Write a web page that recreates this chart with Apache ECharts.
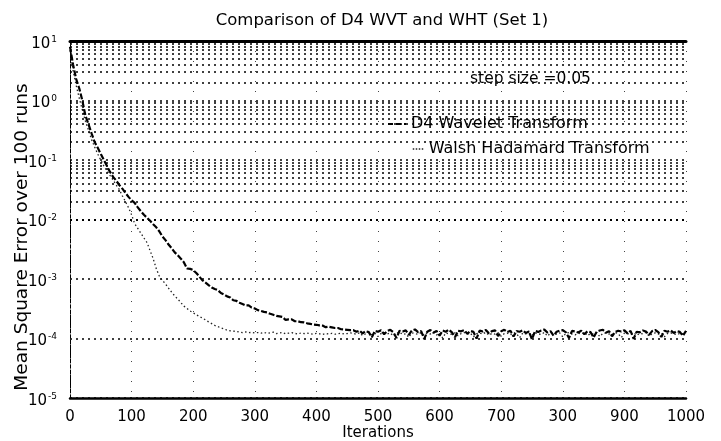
<!DOCTYPE html>
<html>
<head>
<meta charset="utf-8">
<script src="https://cdn.jsdelivr.net/npm/echarts@6/dist/echarts.min.js"></script>
<style>html,body{margin:0;padding:0;background:#fff}#c{width:721px;height:441px}</style>
</head>
<body>
<div id="c"></div>
<script>
const STEP = 5;
const titleText = 'Comparison of D4 WVT and WHT (Set 1)';
const stepLabel = 'step size =0.05';
const seriesNames = ['D4 Wavelet Transform', 'Walsh Hadamard Transform'];
const xTicks = [0, 100, 200, 300, 400, 500, 600, 700, 800, 900, 1000];
const xTickLabels = ['0', '100', '200', '300', '400', '500', '600', '700', '300', '900', '1000'];
const yDecades = [-5, -4, -3, -2, -1, 0, 1];
const gridMantissas = [2, 3, 4, 5, 6, 7, 8, 9];

// D4 Wavelet Transform, iterations 0..1000 step 5
const d4Values = [
  8.0, 4.0, 2.3, 1.6, 1.0, 0.56, 0.40, 0.28, 0.20, 0.16,
  0.126, 0.10, 0.079, 0.063, 0.052, 0.045, 0.038, 0.033, 0.028, 0.024,
  0.021, 0.019, 0.016, 0.0138, 0.012, 0.0107, 0.0095, 0.0083, 0.0074, 0.0063,
  0.0052, 0.0045, 0.0038, 0.0033, 0.0028, 0.0025, 0.0022, 0.0019, 0.0015, 0.00148,
  0.00141, 0.00126, 0.0011, 0.00095, 0.00087, 0.00079, 0.00072, 0.00068, 0.00065, 0.00058,
  0.00055, 0.00051, 0.00049, 0.00044, 0.00043, 0.00040, 0.00038, 0.00036, 0.00036, 0.00033,
  0.00032, 0.00030, 0.00029, 0.00028, 0.000275, 0.00026, 0.00025, 0.00024, 0.000235, 0.00023,
  0.000205, 0.00021, 0.00021, 0.000195, 0.000195, 0.000188, 0.000186, 0.00018, 0.000176, 0.000172,
  0.00017, 0.000166, 0.000165, 0.000155, 0.000158, 0.000154, 0.000150, 0.00015, 0.000143, 0.000142,
  0.000140, 0.000138,
  1.38e-4, 1.30e-4, 1.36e-4, 1.22e-4, 1.33e-4, 1.28e-4, 1.05e-4, 1.34e-4, 1.30e-4, 1.38e-4,
  1.18e-4, 1.33e-4, 1.40e-4, 1.27e-4, 1.02e-4, 1.35e-4, 1.31e-4, 1.37e-4, 1.15e-4, 1.36e-4,
  1.42e-4, 1.28e-4, 1.33e-4, 0.98e-4, 1.30e-4, 1.39e-4, 1.25e-4, 1.34e-4, 1.12e-4, 1.36e-4,
  1.30e-4, 1.41e-4, 1.27e-4, 1.05e-4, 1.35e-4, 1.32e-4, 1.38e-4, 1.20e-4, 1.34e-4, 1.29e-4,
  1.00e-4, 1.36e-4, 1.31e-4, 1.39e-4, 1.22e-4, 1.33e-4, 1.37e-4, 1.10e-4, 1.32e-4, 1.40e-4,
  1.28e-4, 1.35e-4, 1.08e-4, 1.33e-4, 1.30e-4, 1.37e-4, 1.24e-4, 1.31e-4, 0.97e-4, 1.34e-4,
  1.29e-4, 1.36e-4, 1.41e-4, 1.26e-4, 1.33e-4, 1.12e-4, 1.30e-4, 1.36e-4, 1.38e-4, 1.27e-4,
  1.02e-4, 1.34e-4, 1.31e-4, 1.26e-4, 1.35e-4, 1.18e-4, 1.32e-4, 1.28e-4, 1.04e-4, 1.30e-4,
  1.36e-4, 1.40e-4, 1.25e-4, 1.33e-4, 1.09e-4, 1.29e-4, 1.35e-4, 1.31e-4, 1.38e-4, 1.22e-4,
  1.34e-4, 0.99e-4, 1.30e-4, 1.27e-4, 1.36e-4, 1.31e-4, 1.15e-4, 1.33e-4, 1.39e-4, 1.28e-4,
  1.06e-4, 1.35e-4, 1.30e-4, 1.37e-4, 1.24e-4, 1.33e-4, 1.29e-4, 1.11e-4, 1.34e-4
];

// Walsh Hadamard Transform, iterations 0..1000 step 5
const whtValues = [
  7, 3.2, 1.8, 1.1, 0.7, 0.45, 0.32, 0.22, 0.166, 0.126,
  0.10, 0.079, 0.066, 0.055, 0.046, 0.038, 0.032, 0.025, 0.020, 0.0158,
  0.012, 0.0085, 0.0071, 0.0059, 0.0049, 0.0041, 0.0030, 0.0022, 0.0015, 0.00112,
  0.00095, 0.00083, 0.00070, 0.00060, 0.00052, 0.00046, 0.00040, 0.00035, 0.00032, 0.00029,
  0.00027, 0.00025, 0.000235, 0.00022, 0.000205, 0.00019, 0.000178, 0.000166, 0.000158, 0.000151,
  0.000145, 0.000138, 0.000135, 0.000133, 0.000132, 0.000128, 0.000126, 0.000129, 0.000125, 0.000127,
  1.24e-4,
  1.26e-4, 1.23e-4, 1.27e-4, 1.22e-4, 1.25e-4, 1.28e-4, 1.21e-4, 1.24e-4, 1.26e-4, 1.20e-4,
  1.23e-4, 1.25e-4, 1.22e-4, 1.19e-4, 1.24e-4, 1.21e-4, 1.23e-4, 1.20e-4, 1.18e-4, 1.22e-4,
  1.20e-4, 1.17e-4, 1.21e-4, 1.19e-4, 1.22e-4, 1.18e-4, 1.20e-4, 1.23e-4, 1.19e-4, 1.21e-4,
  1.24e-4,
  1.22e-4, 1.18e-4, 1.25e-4, 1.12e-4, 1.20e-4, 1.27e-4, 1.16e-4, 1.23e-4, 1.08e-4, 1.21e-4,
  1.26e-4, 1.19e-4, 1.24e-4, 1.10e-4, 1.22e-4, 1.28e-4, 1.17e-4, 1.20e-4, 1.05e-4, 1.25e-4,
  1.21e-4, 1.18e-4, 1.26e-4, 1.13e-4, 1.23e-4, 1.19e-4, 1.27e-4, 1.15e-4, 1.22e-4, 1.02e-4,
  1.24e-4, 1.20e-4, 1.17e-4, 1.25e-4, 1.11e-4, 1.21e-4, 1.26e-4, 1.18e-4, 1.23e-4, 1.07e-4,
  1.20e-4, 1.24e-4, 1.19e-4, 1.27e-4, 1.14e-4, 1.22e-4, 1.18e-4, 1.25e-4, 1.09e-4, 1.21e-4,
  1.23e-4, 1.16e-4, 1.26e-4, 1.20e-4, 1.03e-4, 1.24e-4, 1.19e-4, 1.22e-4, 1.13e-4, 1.25e-4,
  1.20e-4, 1.17e-4, 1.27e-4, 1.10e-4, 1.23e-4, 1.21e-4, 1.18e-4, 1.24e-4, 1.06e-4, 1.22e-4,
  1.26e-4, 1.19e-4, 1.15e-4, 1.23e-4, 1.20e-4, 1.27e-4, 1.12e-4, 1.21e-4, 1.18e-4, 1.25e-4,
  1.08e-4, 1.22e-4, 1.24e-4, 1.19e-4, 1.16e-4, 1.26e-4, 1.20e-4, 1.04e-4, 1.23e-4, 1.21e-4,
  1.17e-4, 1.25e-4, 1.13e-4, 1.22e-4, 1.19e-4, 1.27e-4, 1.10e-4, 1.20e-4, 1.24e-4, 1.18e-4,
  1.23e-4, 1.07e-4, 1.21e-4, 1.25e-4, 1.19e-4, 1.16e-4, 1.22e-4, 1.20e-4, 1.24e-4
];

// ---- Build chart ----
const toPairs = vals => vals.map((v, i) => [i * STEP, v]);
const minorGrid = [];
yDecades.slice(0, -1).forEach(e => gridMantissas.forEach(m => minorGrid.push({ yAxis: m * Math.pow(10, e) })));
const FONT = 'DejaVu Sans, Verdana, sans-serif';
const dotted = { type: [2, 4], color: '#000', width: 1.5 };

const chart = echarts.init(document.getElementById('c'), null, { renderer: 'canvas' });
chart.setOption({
  backgroundColor: '#fff',
  animation: false,
  textStyle: { fontFamily: FONT, color: '#000' },
  title: [
    { text: titleText, left: 377, textAlign: 'center', top: 7, textStyle: { fontSize: 16.5, fontWeight: 'normal', color: '#000', fontFamily: FONT } },
    { text: stepLabel, left: 465, top: 66, textStyle: { fontSize: 15.5, fontWeight: 'normal', color: '#000', fontFamily: FONT } }
  ],
  legend: [
    { data: [seriesNames[0]], left: 382, top: 111, itemWidth: 18, itemHeight: 10,
      itemStyle: { opacity: 0 }, lineStyle: { type: [5, 3], width: 2 },
      textStyle: { fontSize: 16, color: '#000', fontFamily: FONT }, backgroundColor: 'transparent' },
    { data: [seriesNames[1]], left: 407, top: 136, itemWidth: 11, itemHeight: 10,
      itemStyle: { opacity: 0 }, lineStyle: { type: [1.5, 1.5], width: 1.5 },
      textStyle: { fontSize: 16, color: '#000', fontFamily: FONT }, backgroundColor: 'transparent' }
  ],
  grid: { left: 70, right: 35, top: 41, bottom: 43, containLabel: false, outerBoundsMode: 'none' },
  xAxis: [
    {
      type: 'value', min: 0, max: 1000, interval: 100, position: 'bottom',
      name: 'Iterations', nameLocation: 'middle', nameGap: 28, nameMoveOverlap: false,
      nameTextStyle: { fontSize: 15, color: '#000', fontFamily: FONT },
      axisLine: { show: true, lineStyle: { color: '#000', width: 2.5 } },
      axisTick: { show: false },
      axisLabel: { fontSize: 15, color: '#000', margin: 12, fontFamily: FONT,
        formatter: v => { const i = xTicks.indexOf(v); return i >= 0 ? xTickLabels[i] : ''; } },
      splitLine: { show: true, lineStyle: { type: [1, 9], color: '#444', width: 1 } }
    },
    {
      type: 'value', min: 0, max: 1000, interval: 100, position: 'top',
      axisLine: { show: true, lineStyle: { color: '#000', width: 3 } },
      axisTick: { show: false }, axisLabel: { show: false }, splitLine: { show: false }
    }
  ],
  yAxis: [
    {
      type: 'log', logBase: 10, min: Math.pow(10, yDecades[0]), max: Math.pow(10, yDecades[yDecades.length - 1]),
      splitNumber: 6,
      name: 'Mean Square Error over 100 runs', nameLocation: 'middle', nameGap: 38, nameRotate: 90,
      nameMoveOverlap: false,
      nameTextStyle: { fontSize: 18.5, color: '#000', fontFamily: FONT, padding: [0, 35, 0, 0] },
      axisLine: { show: true, lineStyle: { color: '#000', width: 1, type: [3, 2] } },
      axisTick: { show: false },
      axisLabel: {
        margin: 13, color: '#000', padding: [6, 0, 0, 0],
        formatter: v => '{b|10}{s|' + Math.round(Math.log10(v)) + '}',
        rich: {
          b: { fontSize: 15, fontFamily: FONT, color: '#000', lineHeight: 18 },
          s: { fontSize: 9, fontFamily: FONT, color: '#000', lineHeight: 9, verticalAlign: 'top', padding: [0, 0, 0, 1] }
        }
      },
      splitLine: { show: true, lineStyle: dotted }
    },
    {
      type: 'log', logBase: 10, min: Math.pow(10, yDecades[0]), max: Math.pow(10, yDecades[yDecades.length - 1]),
      position: 'right',
      axisLine: { show: true, lineStyle: { color: '#000', width: 1, type: [3, 3] } },
      axisTick: { show: false }, axisLabel: { show: false }, splitLine: { show: false }
    }
  ],
  series: [
    {
      name: 'grid', type: 'line', data: [], silent: true,
      markLine: { silent: true, symbol: 'none', label: { show: false }, lineStyle: dotted, data: minorGrid, animation: false }
    },
    {
      name: seriesNames[1], type: 'line', data: toPairs(whtValues), symbol: 'none', showSymbol: false,
      lineStyle: { color: '#222', width: 1.3, type: [1.5, 2.5] }, itemStyle: { color: '#222' }, z: 3
    },
    {
      name: seriesNames[0], type: 'line', data: toPairs(d4Values), symbol: 'none', showSymbol: false,
      lineStyle: { color: '#000', width: 2.2, type: [6, 2] }, itemStyle: { color: '#000' }, z: 4
    }
  ]
});
</script>
</body>
</html>
